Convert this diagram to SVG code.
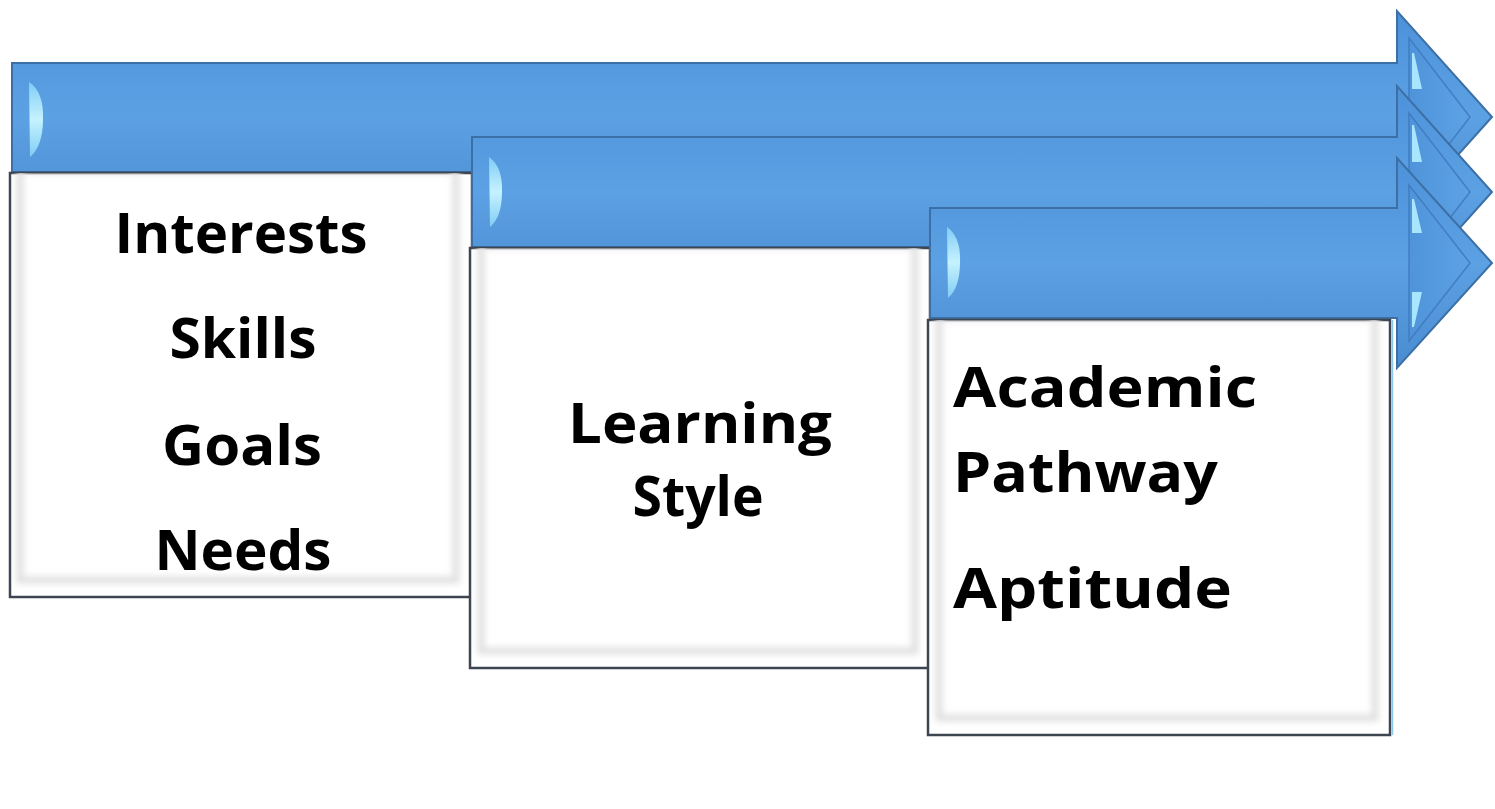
<svg xmlns="http://www.w3.org/2000/svg" width="1495" height="809" viewBox="0 0 1495 809">
  <defs>
    <linearGradient id="bodyGrad" x1="0" y1="0" x2="0" y2="1">
      <stop offset="0" stop-color="#4d92d9"/>
      <stop offset="0.5" stop-color="#5ca1e3"/>
      <stop offset="1" stop-color="#4a8bd0"/>
    </linearGradient>
    <linearGradient id="hlGrad" x1="0" y1="0" x2="0" y2="1">
      <stop offset="0" stop-color="#7fcdf5"/>
      <stop offset="0.5" stop-color="#c6f2ff"/>
      <stop offset="1" stop-color="#7fcdf5"/>
    </linearGradient>
    <linearGradient id="headInner" x1="0" y1="0" x2="1" y2="0">
      <stop offset="0" stop-color="#4f93da"/>
      <stop offset="1" stop-color="#5ea3e4"/>
    </linearGradient>
    <filter id="soft" x="-10%" y="-10%" width="120%" height="120%">
      <feGaussianBlur stdDeviation="3"/>
    </filter>
    <clipPath id="clip1"><rect x="10" y="173" width="462" height="424"/></clipPath>
    <clipPath id="clip2"><rect x="470" y="248" width="458" height="420"/></clipPath>
    <clipPath id="clip3"><rect x="928" y="320" width="462" height="415"/></clipPath>
  </defs>
  <style>
    .arrow { fill: url(#bodyGrad); stroke: #3b6fa6; stroke-width: 2; stroke-linejoin: miter; }
    .inner { fill: url(#headInner); stroke: #3f7bbd; stroke-width: 1.5; opacity: 0.9; }
    .hl { fill: url(#hlGrad); }
    .sl { fill: #a8e6ff; }
    .box { fill: #ffffff; stroke: #3d4650; stroke-width: 2.5; }
    .bevel { fill: none; stroke: #e0e0e0; stroke-width: 7; filter: url(#soft); }
    .t { font-family: "Open Sans", "Noto Sans", sans-serif; font-weight: 700; font-size: 56px; fill: #000000; }
  </style>

  <g id="arrow1">
    <path class="arrow" d="M12,63 H1397 V11 L1492,117 L1397,223 V172 H12 Z"/>
    <path class="inner" d="M1409,38 L1470,117 L1409,196 Z"/>
    <path class="hl" d="M29,82 Q44,92 43,119 Q43,146 30,157 Z"/>
    <path class="sl" d="M1412,53 L1414,53 L1422,89 L1412,89 Z"/>
  </g>

  <g id="box1">
    <rect class="box" x="10" y="173" width="462" height="424"/>
    <g clip-path="url(#clip1)">
      <rect class="bevel" x="20" y="170" width="436" height="410"/>
    </g>
    <text class="t" x="241" y="253" text-anchor="middle" textLength="253" lengthAdjust="spacingAndGlyphs">Interests</text>
    <text class="t" x="243" y="358" text-anchor="middle" textLength="147" lengthAdjust="spacingAndGlyphs">Skills</text>
    <text class="t" x="242" y="465" text-anchor="middle" textLength="160" lengthAdjust="spacingAndGlyphs">Goals</text>
    <text class="t" x="243" y="570" text-anchor="middle" textLength="177" lengthAdjust="spacingAndGlyphs">Needs</text>
  </g>

  <g id="arrow2">
    <path class="arrow" d="M472,137 H1397 V86 L1492,192 L1397,298 V247 H472 Z"/>
    <path class="inner" d="M1409,113 L1470,192 L1409,271 Z"/>
    <path class="hl" d="M489,157 Q503,167 502,192 Q502,217 490,227 Z"/>
    <path class="sl" d="M1412,125 L1414,125 L1422,162 L1412,162 Z"/>
  </g>

  <g id="box2">
    <rect class="box" x="470" y="248" width="460" height="420"/>
    <g clip-path="url(#clip2)">
      <rect class="bevel" x="481" y="245" width="434" height="406"/>
    </g>
    <text class="t" x="700" y="443" text-anchor="middle" textLength="264" lengthAdjust="spacingAndGlyphs">Learning</text>
    <text class="t" x="698" y="516" text-anchor="middle" textLength="131" lengthAdjust="spacingAndGlyphs">Style</text>
  </g>

  <g id="arrow3">
    <path class="arrow" d="M930,208 H1397 V158 L1492,263 L1397,368 V318 H930 Z"/>
    <path class="inner" d="M1409,185 L1470,263 L1409,341 Z"/>
    <path class="hl" d="M947,227 Q961,237 960,262 Q960,288 948,298 Z"/>
    <path class="sl" d="M1412,199 L1414,199 L1422,233 L1412,233 Z"/>
    <path class="sl" d="M1412,292 L1422,292 L1414,327 L1412,327 Z"/>
  </g>

  <g id="box3">
    <rect class="box" x="928" y="320" width="462" height="415"/>
    <g clip-path="url(#clip3)">
      <rect class="bevel" x="939" y="317" width="436" height="401"/>
    </g>
    <line x1="1392.5" y1="320" x2="1392.5" y2="735" stroke="#8cc8ee" stroke-width="1.5"/>
    <text class="t" x="953" y="407" textLength="304" lengthAdjust="spacingAndGlyphs">Academic</text>
    <text class="t" x="953" y="492" textLength="265" lengthAdjust="spacingAndGlyphs">Pathway</text>
    <text class="t" x="953" y="608" textLength="279" lengthAdjust="spacingAndGlyphs">Aptitude</text>
  </g>

  <g id="connectors"></g>
</svg>
